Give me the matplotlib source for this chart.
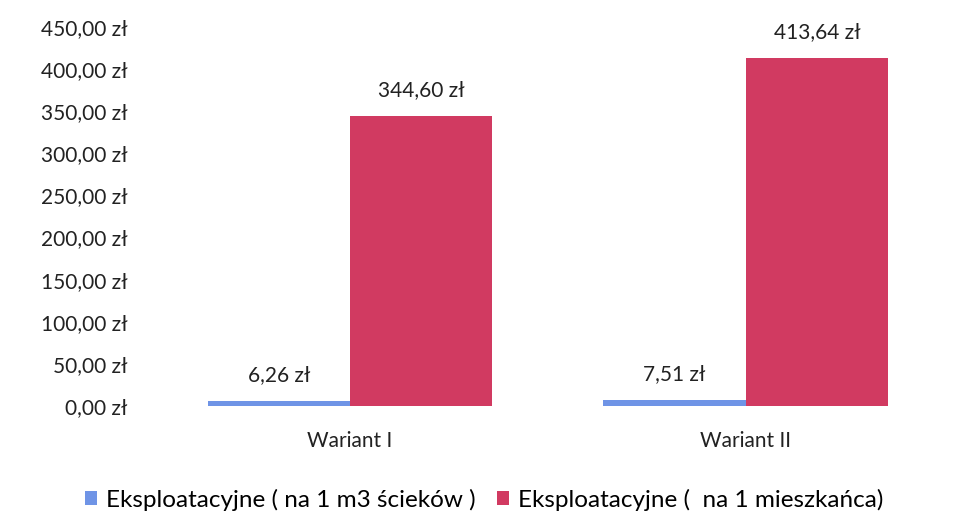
import numpy as np
import matplotlib
matplotlib.use('Agg')
import matplotlib.pyplot as plt

plt.rcParams['font.family'] = ['Lato', 'DejaVu Sans']

# Data
categories = ['Wariant I', 'Wariant II']
per_m3 = [6.26, 7.51]
per_resident = [344.60, 413.64]
series_names = ['Eksploatacyjne ( na 1 m3 ścieków )', 'Eksploatacyjne (  na 1 mieszkańca)']
yticks = [0, 50, 100, 150, 200, 250, 300, 350, 400, 450]

blue = '#6f94e6'
red = '#d13a61'
text_col = '#222222'

def zl(v):
    return f'{v:,.2f} zł'.replace(',', ' ').replace('.', ',')

fig = plt.figure(figsize=(9.57, 5.18), dpi=100)
ax = fig.add_axes([0.159, 0.216, 0.827, 0.732])

x = np.arange(len(categories))
w = 0.36
b1 = ax.bar(x - w / 2, per_m3, w, color=blue, label=series_names[0])
b2 = ax.bar(x + w / 2, per_resident, w, color=red, label=series_names[1])

# value labels above each bar
for bars, vals in ((b1, per_m3), (b2, per_resident)):
    for bar, v in zip(bars, vals):
        ax.annotate(zl(v), (bar.get_x() + bar.get_width() / 2, v),
                    xytext=(0, 11), textcoords='offset points',
                    ha='center', va='bottom', fontsize=15, color=text_col)

ax.set_xlim(-0.5, 1.5)
ax.set_ylim(0, 450)
ax.set_yticks(yticks)
ax.set_yticklabels([zl(t) for t in yticks], fontsize=15, color=text_col)
ax.set_xticks(x)
ax.set_xticklabels(categories, fontsize=15, color=text_col)
ax.tick_params(axis='y', length=0, pad=18)
ax.tick_params(axis='x', length=0, pad=18)
for s in ax.spines.values():
    s.set_visible(False)

fig.legend(loc='lower center', ncol=2, frameon=False, fontsize=17.5,
           bbox_to_anchor=(0.506, -0.028), handlelength=0.5, handleheight=0.5,
           handletextpad=0.35, columnspacing=0.9)

fig.savefig('out.png', dpi=100)
